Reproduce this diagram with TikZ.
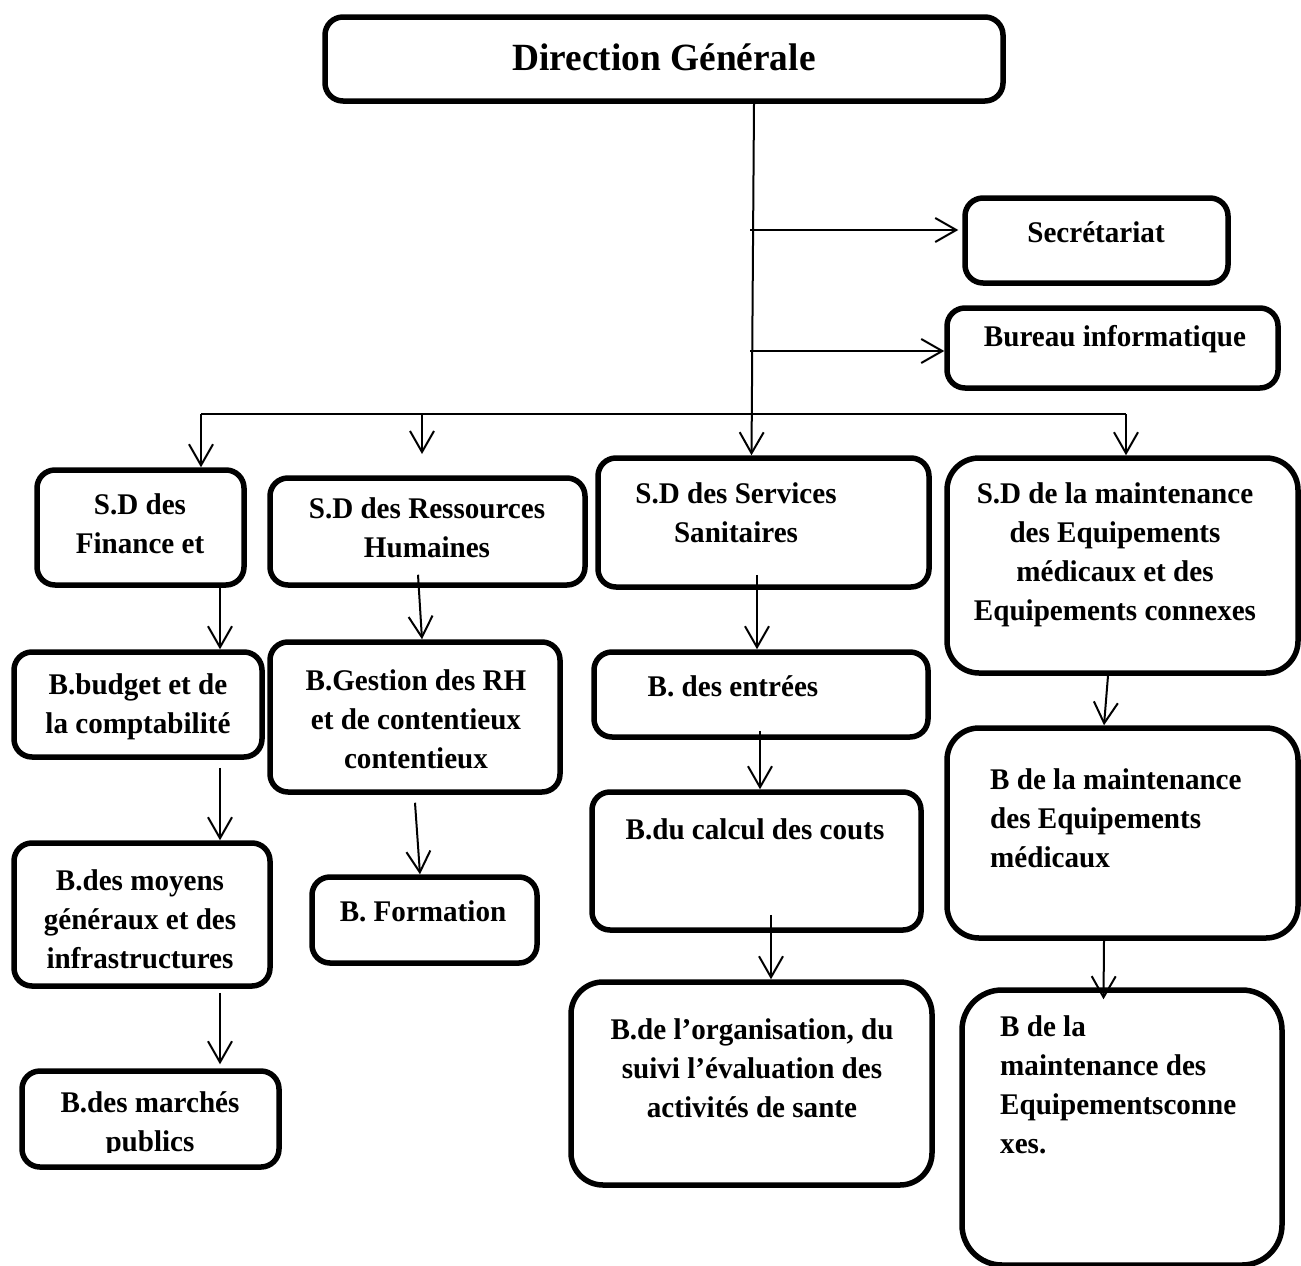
\documentclass[tikz,border=0pt]{standalone}
\usepackage{fontspec}
\setmainfont{Liberation Serif}[FakeStretch=0.97]
\usetikzlibrary{arrows.meta}
\begin{document}
\begin{tikzpicture}[x=1pt,y=-1pt,
  box/.style={draw, line width=5.5pt, rounded corners=18pt, inner sep=0pt},
  bigbox/.style={box, rounded corners=32pt},
  txt/.style={font=\bfseries\fontsize{30}{39}\selectfont, align=center, inner sep=0pt},
  ltxt/.style={txt, align=left, anchor=west},
  conn/.style={draw, line width=2pt},
  arr/.style={conn, -{Straight Barb[length=21pt,width=24pt,line width=2pt]}}]
\useasboundingbox (0,0) rectangle (1301,1266);

% boxes
\node[box, minimum width=678pt, minimum height=84pt] (dg) at (664,59) {};
\node[box, minimum width=263pt, minimum height=85pt] (sec) at (1096.5,240.5) {};
\node[box, minimum width=331pt, minimum height=80pt] (bur) at (1112.5,348) {};
\node[box, minimum width=207pt, minimum height=115pt] (fin) at (140.5,527.5) {};
\node[box, minimum width=315pt, minimum height=107pt] (rh) at (427.5,531.5) {};
\node[box, minimum width=331pt, minimum height=129pt] (san) at (763.5,522.5) {};
\node[bigbox, minimum width=351pt, minimum height=215pt] (mnt) at (1122.5,565.5) {};
\node[box, minimum width=248pt, minimum height=105pt] (bud) at (138,704.5) {};
\node[box, minimum width=256pt, minimum height=143pt] (moy) at (142,914.5) {};
\node[box, minimum width=257pt, minimum height=96pt] (mar) at (150.5,1119) {};
\node[box, minimum width=290pt, minimum height=150pt] (ges) at (415,717) {};
\node[box, minimum width=225pt, minimum height=86pt] (for) at (424.5,920) {};
\node[box, minimum width=334pt, minimum height=85pt] (ent) at (761,694.5) {};
\node[box, minimum width=329pt, minimum height=138pt] (cal) at (756.5,861) {};
\node[bigbox, minimum width=361pt, minimum height=203pt] (org) at (751.5,1083.5) {};
\node[bigbox, minimum width=351pt, minimum height=210pt] (mmed) at (1122.5,833) {};
\node[bigbox, rounded corners=40pt, minimum width=320pt, minimum height=275pt] (mcon) at (1122,1127.5) {};

% texts
\node[txt, font=\bfseries\fontsize{38.5}{44}\selectfont] (tdg) at (664,57) {Direction Générale};
\node[txt] (tsec) at (1096,232) {Secrétariat};
\node[txt] (tbur) at (1115,339) {Bureau informatique};
\node[txt] (tfin) at (140,524) {S.D des\\Finance et};
\node[txt] (trh) at (427,528) {S.D des Ressources\\Humaines};
\node[txt] (tsan) at (736,513) {S.D des Services\\Sanitaires};
\node[txt] (tmnt) at (1115,555) {S.D de la maintenance\\des Equipements\\médicaux et des\\Equipements connexes};
\node[txt] (tbud) at (138,707) {B.budget et de\\la comptabilité};
\node[txt] (tmoy) at (140,919) {B.des moyens\\généraux et des\\infrastructures};
\begin{scope}
\clip (22,1070) rectangle (279,1152);
\node[txt] (tmar) at (150,1125) {B.des marchés\\publics};
\end{scope}
\node[txt] (tges) at (416,719) {B.Gestion des RH\\et de contentieux\\contentieux};
\node[txt] (tfor) at (423,911) {B. Formation};
\node[txt] (tent) at (733,686) {B. des entrées};
\node[txt] (tcal) at (755,829) {B.du calcul des couts};
\node[txt] (torg) at (752,1068) {B.de l’organisation, du\\suivi l’évaluation des\\activités de sante};
\node[ltxt] (tmmed) at (990,818) {B de la maintenance\\des Equipements\\médicaux};
\node[ltxt] (tmcon) at (1000,1085) {B de la\\maintenance des\\Equipementsconne\\xes.};

% connectors
\draw[arr] ([xshift=90pt]dg.south) -- ([xshift=-12pt]san.north);
\coordinate (s1) at (750,230);
\coordinate (s2) at (750,351);
\draw[arr] (s1) -- ([xshift=-4pt]sec.west |- s1);
\draw[arr] (s2) -- (bur.west |- s2);
\coordinate (busL) at (201,414);
\coordinate (busM) at (422,414);
\coordinate (busR) at (1126,414);
\draw[conn] (busL) -- (busR);
\draw[arr] (busL) -- (busL |- fin.north);
\draw[arr] (busM) -- ++(0,40);
\draw[arr] (busR) -- (busR |- mnt.north);

\draw[arr] ([xshift=79.5pt]fin.south) -- ([xshift=82pt]bud.north);
\draw[arr] ([xshift=82pt,yshift=-8pt]bud.south) -- ([xshift=78pt]moy.north);
\draw[arr] ([xshift=78pt,yshift=-4pt]moy.south) -- ([xshift=69.5pt,yshift=4pt]mar.north);

\draw[arr] ([xshift=-9.5pt,yshift=13pt]rh.south) -- ([xshift=7pt]ges.north);
\draw[arr] ([yshift=-8pt]ges.south) -- ([xshift=-4.5pt]for.north);

\draw[arr] ([xshift=-6.5pt,yshift=15pt]san.south) -- ([xshift=-4pt]ent.north);
\draw[arr] ([xshift=-1pt,yshift=9pt]ent.south) -- ([xshift=3.5pt]cal.north);
\draw[arr] ([xshift=14.5pt,yshift=18pt]cal.south) -- ([xshift=19.5pt]org.north);

\draw[arr] ([xshift=-14.5pt]mnt.south) -- ([xshift=-18.5pt]mmed.north);
\draw[arr] ([xshift=-18.5pt]mmed.south) -- ([xshift=-18.5pt,yshift=-12pt]mcon.north);
\end{tikzpicture}
\end{document}
